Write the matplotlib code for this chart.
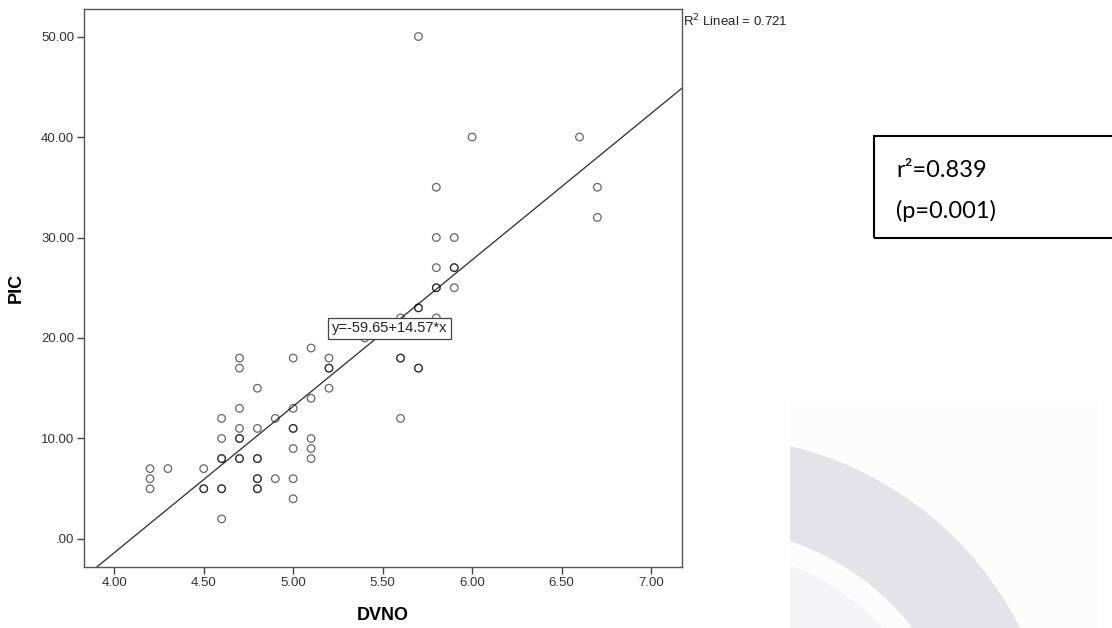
import numpy as np
import matplotlib
matplotlib.use('Agg')
import matplotlib.pyplot as plt
from matplotlib.patches import Rectangle, Wedge

# DVNO / PIC pairs (darker rings = repeated points)
dvno = [4.2, 4.2, 4.2,
        4.3,
        4.5, 4.5, 4.5,
        4.6, 4.6, 4.6, 4.6, 4.6, 4.6, 4.6,
        4.7, 4.7, 4.7, 4.7, 4.7, 4.7, 4.7, 4.7,
        4.8, 4.8, 4.8, 4.8, 4.8, 4.8, 4.8, 4.8,
        4.9, 4.9,
        5.0, 5.0, 5.0, 5.0, 5.0, 5.0, 5.0,
        5.1, 5.1, 5.1, 5.1, 5.1,
        5.2, 5.2, 5.2, 5.2,
        5.4,
        5.6, 5.6, 5.6, 5.6,
        5.7, 5.7, 5.7, 5.7, 5.7,
        5.8, 5.8, 5.8, 5.8, 5.8, 5.8,
        5.9, 5.9, 5.9, 5.9,
        6.0,
        6.6,
        6.7, 6.7]
pic = [7, 6, 5,
       7,
       7, 5, 5,
       12, 10, 8, 8, 5, 5, 2,
       18, 17, 13, 11, 10, 10, 8, 8,
       15, 11, 8, 8, 6, 6, 5, 5,
       12, 6,
       18, 13, 11, 11, 9, 6, 4,
       19, 14, 10, 9, 8,
       18, 17, 17, 15,
       20,
       22, 18, 18, 12,
       50, 23, 23, 17, 17,
       35, 30, 27, 25, 25, 22,
       30, 27, 27, 25,
       40,
       40,
       35, 32]

intercept = -59.65
slope = 14.57
r2_lineal = 0.721
xticks = [4.0, 4.5, 5.0, 5.5, 6.0, 6.5, 7.0]
xticklabels = ['4.00', '4.50', '5.00', '5.50', '6.00', '6.50', '7.00']
yticks = [0, 10, 20, 30, 40, 50]
yticklabels = ['.00', '10.00', '20.00', '30.00', '40.00', '50.00']

W, H = 1112, 628
fig = plt.figure(figsize=(W / 100, H / 100), dpi=100)
fig.patch.set_facecolor('white')

# faint watermark in the lower right corner
wm = fig.add_axes([790 / W, 0, (1098 - 790) / W, (628 - 402) / H])
wm.set_xlim(790, 1098)
wm.set_ylim(628, 402)
wm.axis('off')
wm.add_patch(Rectangle((790, 402), 308, 226, fc='#fcfcfc', ec='none'))
wm.add_patch(Wedge((709, 785), 348.5, 0, 360, width=91.5, fc='#e4e4e8', ec='none'))
wm.add_patch(Wedge((709, 785), 234, 0, 360, fc='#f4f4f6', ec='none'))

ax = fig.add_axes([84 / W, (628 - 567) / H, (682 - 84) / W, (567 - 9) / H])
ax.set_xlim(3.831, 7.173)
ax.set_ylim(-2.79, 52.74)

ax.scatter(dvno, pic, s=30, facecolors='none', edgecolors='black',
           linewidths=0.9, alpha=0.6, zorder=3)

xs = np.array(ax.get_xlim())
ax.plot(xs, intercept + slope * xs, color='#3c3c3c', lw=1.0, zorder=2)

ax.text(0.511, 0.428, 'y=-59.65+14.57*x', transform=ax.transAxes,
        ha='center', va='center', fontsize=10.5, family='Liberation Sans',
        color='#222222', zorder=5,
        bbox=dict(boxstyle='square,pad=0.25', fc='white', ec='#444444', lw=0.9))

ax.set_xticks(xticks)
ax.set_xticklabels(xticklabels)
ax.set_yticks(yticks)
ax.set_yticklabels(yticklabels)
ax.tick_params(direction='out', length=5, width=1, color='#444444',
               labelsize=9.5, labelcolor='#333333', pad=2)
for lab in ax.get_xticklabels() + ax.get_yticklabels():
    lab.set_family('Liberation Sans')
for sp in ax.spines.values():
    sp.set_color('#555555')
    sp.set_linewidth(1.0)

ax.set_xlabel('DVNO', fontsize=13, fontweight='bold', family='Liberation Sans')
ax.set_ylabel('PIC', fontsize=13, fontweight='bold', family='Liberation Sans')
ax.xaxis.set_label_coords(0.5, -0.072)
ax.yaxis.set_label_coords(-0.099, 0.5)

fig.text(683 / W, 1 - 21 / H, 'R$^2$ Lineal = %.3f' % r2_lineal, fontsize=9.5,
         family='Liberation Sans', ha='left', va='center', color='#222222')

# r² box on the right
fig.patches.append(Rectangle((874 / W, (628 - 238) / H), 0.3, 102 / H,
                             transform=fig.transFigure, fill=False,
                             ec='black', lw=1.5))
fig.text(896 / W, 1 - 170 / H, 'r²=0.839', fontsize=17, family='Lato',
         ha='left', va='center')
fig.text(896 / W, 1 - 211 / H, '(p=0.001)', fontsize=17, family='Lato',
         ha='left', va='center')

fig.savefig('out.png', dpi=100)
